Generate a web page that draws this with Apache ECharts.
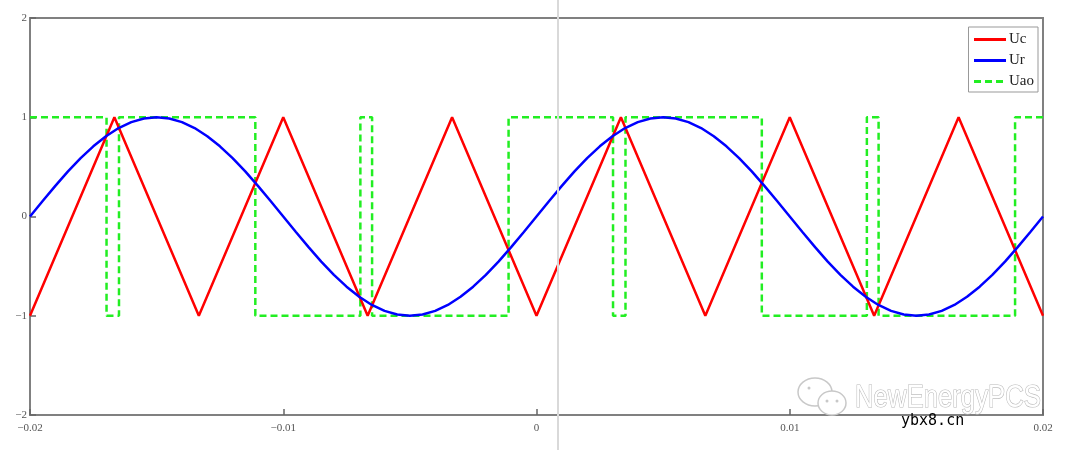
<!DOCTYPE html>
<html><head><meta charset="utf-8">
<script src="https://cdn.jsdelivr.net/npm/echarts@6/dist/echarts.min.js"></script>
<style>html,body{margin:0;padding:0;background:#fff}#c{width:1080px;height:450px}</style>
</head><body><div id="c"></div>
<script>
// Ur: sine samples at t = -0.02 .. 0.02, step 0.0005
const urT0 = -0.02, urStep = 0.0005;
const urValues = [0,0.1564,0.3090,0.4540,0.5878,0.7071,0.8090,0.8910,0.9511,0.9877,1,0.9877,0.9511,0.8910,0.8090,0.7071,0.5878,0.4540,0.3090,0.1564,0,
 -0.1564,-0.3090,-0.4540,-0.5878,-0.7071,-0.8090,-0.8910,-0.9511,-0.9877,-1,-0.9877,-0.9511,-0.8910,-0.8090,-0.7071,-0.5878,-0.4540,-0.3090,-0.1564,0,
 0.1564,0.3090,0.4540,0.5878,0.7071,0.8090,0.8910,0.9511,0.9877,1,0.9877,0.9511,0.8910,0.8090,0.7071,0.5878,0.4540,0.3090,0.1564,0,
 -0.1564,-0.3090,-0.4540,-0.5878,-0.7071,-0.8090,-0.8910,-0.9511,-0.9877,-1,-0.9877,-0.9511,-0.8910,-0.8090,-0.7071,-0.5878,-0.4540,-0.3090,-0.1564,0];
// Uc: triangle vertices
const ucT = [-0.02,-0.016667,-0.013333,-0.01,-0.006667,-0.003333,0,0.003333,0.006667,0.01,0.013333,0.016667,0.02];
const ucV = [-1,1,-1,1,-1,1,-1,1,-1,1,-1,1,-1];
// Uao: switching instants and levels
const uaoSwitchT = [-0.016978,-0.016486,-0.011103,-0.006955,-0.006492,-0.001103,0.003022,0.003514,0.008897,0.013045,0.013508,0.018897];
const uaoLevels = [1,-1,1,-1,1,-1,1,-1,1,-1,1,-1,1];
const xTicks = [-0.02,-0.01,0,0.01,0.02];
const xTickLabels = ['\u22120.02','\u22120.01','0','0.01','0.02'];
const yTickLabels = {'2':'2','1':'1','0':'0','-1':'\u22121','-2':'\u22122'};

const urData = urValues.map((v,i)=>[urT0 + i*urStep, v]);
const ucData = ucT.map((t,i)=>[t, ucV[i]]);
const uaoData = [];
uaoData.push([-0.02, uaoLevels[0]]);
uaoSwitchT.forEach((t,i)=>{ uaoData.push([t, uaoLevels[i]]); uaoData.push([t, uaoLevels[i+1]]); });
uaoData.push([0.02, uaoLevels[uaoLevels.length-1]]);

const chart = echarts.init(document.getElementById('c'));
const serif = 'Liberation Serif';
chart.setOption({
  animation:false,
  grid:{left:30,right:37,top:18,bottom:35,show:true,borderColor:'#808080',borderWidth:2},
  xAxis:{type:'value',min:-0.02,max:0.02,interval:0.01,
    axisLine:{show:false,onZero:false},splitLine:{show:false},
    axisTick:{show:true,inside:true,length:6,lineStyle:{color:'#666',width:1.5}},
    axisLabel:{margin:8,fontFamily:serif,fontSize:11,color:'#555',
      formatter:v=>{const i=xTicks.findIndex(x=>Math.abs(x-v)<1e-9);return i>=0?xTickLabels[i]:'';}}},
  yAxis:{type:'value',min:-2,max:2,interval:1,
    axisLine:{show:false,onZero:false},splitLine:{show:false},
    axisTick:{show:true,inside:true,length:6,lineStyle:{color:'#666',width:1.5}},
    axisLabel:{margin:3,fontFamily:serif,fontSize:11,color:'#555',
      formatter:v=>yTickLabels[String(Math.round(v))]}},
  legend:{orient:'vertical',right:42,top:27,backgroundColor:'#fff',borderColor:'#999',borderWidth:1,
    padding:[5,4,3,4],itemGap:6,itemWidth:32,itemHeight:12,
    itemStyle:{opacity:0},lineStyle:{width:3},
    textStyle:{fontFamily:serif,fontSize:15,color:'#222',padding:[0,0,0,-2]},
    data:['Uc','Ur','Uao']},
  series:[
    {name:'Uc',type:'line',data:ucData,symbol:'none',lineStyle:{color:'#ff0000',width:2.5},itemStyle:{color:'#ff0000'},z:3},
    {name:'Ur',type:'line',data:urData,symbol:'none',lineStyle:{color:'#0000ff',width:2.5},itemStyle:{color:'#0000ff'},z:4},
    {name:'Uao',type:'line',data:uaoData,symbol:'none',lineStyle:{color:'#22ee22',width:2.5,type:[7,4]},itemStyle:{color:'#22ee22'},z:2}
  ],
  graphic:[
    {type:'line',shape:{x1:558,y1:0,x2:558,y2:450},style:{stroke:'#d9d9d9',lineWidth:2},z:10},
    {type:'ellipse',shape:{cx:815,cy:392,rx:17,ry:14},style:{fill:'rgba(255,255,255,0.8)',stroke:'#c8c8c8',lineWidth:1.5},z:11},
    {type:'ellipse',shape:{cx:832,cy:403,rx:14,ry:12},style:{fill:'#fff',stroke:'#c8c8c8',lineWidth:1.5},z:11},
    {type:'circle',shape:{cx:809,cy:388,r:1.5},style:{fill:'#c8c8c8'},z:12},
    {type:'circle',shape:{cx:827,cy:401,r:1.5},style:{fill:'#c8c8c8'},z:12},
    {type:'circle',shape:{cx:837,cy:401,r:1.5},style:{fill:'#c8c8c8'},z:12},
    {type:'text',x:855,y:383,scaleX:0.83,style:{text:'NewEnergyPCS',x:0,y:0,verticalAlign:'top',font:'31px "Liberation Sans"',fill:'#fff',stroke:'#b8b8b8',lineWidth:1.2},z:11},
    {type:'text',left:901,top:414,style:{text:'ybx8.cn',font:'15px "DejaVu Sans Mono"',fill:'#000'},z:12}
  ]
});
</script></body></html>
